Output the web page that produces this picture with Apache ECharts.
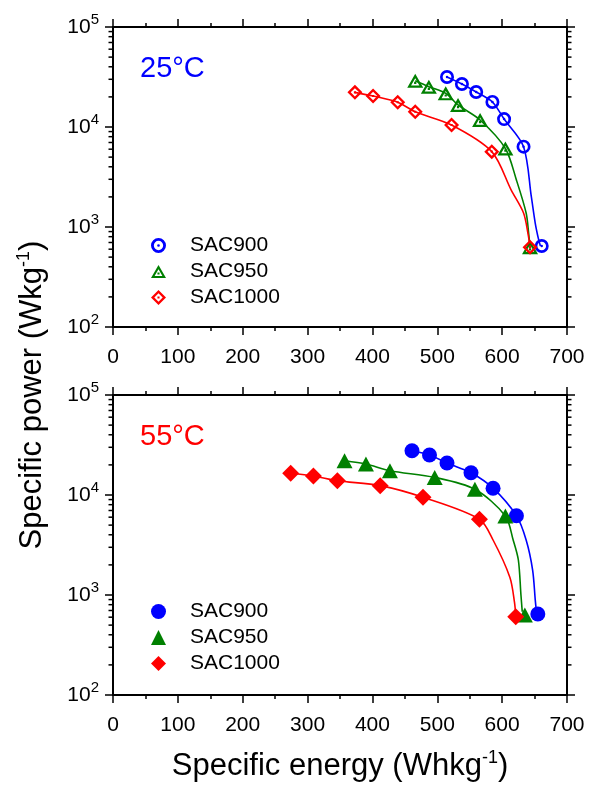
<!DOCTYPE html>
<html>
<head>
<meta charset="utf-8">
<script src="https://cdn.jsdelivr.net/npm/echarts@6/dist/echarts.min.js"></script>
<style>html,body{margin:0;padding:0;background:#fff;}#chart{width:590px;height:786px;}</style>
</head>
<body>
<div id="chart"></div>
<script>
// ---------- Data ----------
const seriesNames = ['SAC900', 'SAC950', 'SAC1000'];
const xTicks = [0, 100, 200, 300, 400, 500, 600, 700];
const yMajorTicks = [100, 1000, 10000, 100000];
const yMinorTicks = [200,300,400,500,600,700,800,900,2000,3000,4000,5000,6000,7000,8000,9000,20000,30000,40000,50000,60000,70000,80000,90000];

// 25 °C – markers
const e900_25  = [515, 538, 560, 585, 603, 633, 661];
const p900_25  = [31600, 26900, 22400, 17800, 12000, 6360, 646];
const e950_25  = [466, 487, 513, 532, 566, 605, 643];
const p950_25  = [29000, 25300, 21700, 16600, 11750, 6100, 627];
const e1000_25 = [373, 401, 439, 466, 522, 584, 643];
const p1000_25 = [22200, 20400, 17700, 14200, 10470, 5670, 627];
// 25 °C – fitted curves
const fe900_25  = [515, 538, 560, 585, 603, 633, 645, 651, 656, 659];
const fp900_25  = [31600, 26900, 22400, 17800, 12000, 6360, 2010, 1096, 760, 646];
const fe950_25  = [466, 487, 513, 532, 566, 605, 622, 637, 641, 643];
const fp950_25  = [29000, 25300, 21700, 16600, 11750, 6100, 2950, 1380, 850, 627];
const fe1000_25 = [373, 401, 439, 466, 522, 584, 614, 633, 640, 643];
const fp1000_25 = [22200, 20400, 17700, 14200, 10470, 5670, 2340, 1380, 850, 627];

// 55 °C – markers
const e900_55  = [461, 488, 515, 552, 586, 622, 655];
const p900_55  = [27700, 25100, 20900, 16700, 11700, 6210, 646];
const e950_55  = [357, 390, 427, 496, 558, 605, 635];
const p950_55  = [22000, 20400, 17500, 15000, 11400, 6170, 631];
const e1000_55 = [274, 309, 346, 412, 478, 565, 621];
const p1000_55 = [16500, 15500, 13900, 12400, 9480, 5720, 607];
// 55 °C – fitted curves
const fe900_55  = [461, 488, 515, 552, 586, 622, 637, 647, 651, 653];
const fp900_55  = [27700, 25100, 20900, 16700, 11700, 6210, 3548, 1778, 900, 660];
const fe950_55  = [357, 390, 427, 496, 558, 605, 617, 625, 629, 631];
const fp950_55  = [22000, 20400, 17500, 15000, 11400, 6170, 3548, 2239, 1000, 680];
const fe1000_55 = [274, 309, 346, 412, 478, 565, 586, 612, 619, 621];
const fp1000_55 = [16500, 15500, 13900, 12400, 9480, 5720, 3548, 1500, 850, 620];

// ---------- Chart ----------
const FONT = "'Liberation Sans', Arial, sans-serif";
const BLUE = '#0000ff', GREEN = '#008000', RED = '#ff0000';
const pairs = (E, P) => E.map((e, i) => [e, P[i]]);

const ringCircle = 'path://M10,0A10,10,0,1,1,10,20A10,10,0,1,1,10,0ZM10,3.8A6.2,6.2,0,1,0,10,16.2A6.2,6.2,0,1,0,10,3.8ZM10,8.2A1.8,1.8,0,1,1,10,11.8A1.8,1.8,0,1,1,10,8.2Z';
const ringTri = 'path://M10,0L20,17.3L0,17.3ZM10,5.6L4.8,14.6L15.2,14.6ZM8.6,10L11.4,10L11.4,12.6L8.6,12.6Z';
const ringDia = 'path://M10,0L20,10L10,20L0,10ZM10,4.4L4.4,10L10,15.6L15.6,10ZM8.6,8.6L11.4,8.6L11.4,11.4L8.6,11.4Z';

const supFmt = v => '{b|10}{s|' + Math.round(Math.log10(v)) + '}';

function xAxes(grid, withLabels) {
  const common = {
    type: 'value', gridIndex: grid, min: 0, max: 700, interval: 100,
    splitLine: { show: false },
    axisLine: { show: true, onZero: false, lineStyle: { color: '#000', width: 2 } },
    axisTick: { show: true, inside: false, length: 8, lineStyle: { color: '#000', width: 1.5 } },
    minorTick: { show: true, splitNumber: 2, length: 4, lineStyle: { color: '#000', width: 1.5 } }
  };
  return [
    Object.assign({}, common, {
      position: 'bottom',
      axisLabel: { show: withLabels, customValues: xTicks, margin: 20, fontSize: 21, color: '#000', fontFamily: FONT }
    }),
    Object.assign({}, common, { position: 'top', axisLabel: { show: false } })
  ];
}
function yAxes(grid) {
  const major = (pos, labels) => ({
    type: 'log', logBase: 10, gridIndex: grid, min: 100, max: 100000,
    splitLine: { show: false }, minorTick: { show: false },
    position: pos,
    axisLine: { show: true, onZero: false, lineStyle: { color: '#000', width: 2 } },
    axisTick: { show: true, inside: false, length: 8, lineStyle: { color: '#000', width: 1.5 } },
    axisLabel: {
      show: labels, formatter: supFmt, margin: 14,
      rich: {
        b: { fontSize: 21, color: '#000', fontFamily: FONT },
        s: { fontSize: 15, color: '#000', fontFamily: FONT, padding: [0, 0, 14, 0] }
      }
    }
  });
  return [major('left', true), major('right', false)];
}

// minor log ticks (2..9 × 10^n) on both frame sides, positioned through the log axis
function minorTickSeries(xi, yi) {
  return {
    type: 'custom', xAxisIndex: xi, yAxisIndex: yi, silent: true, z: 5, clip: false,
    data: yMinorTicks.map(v => [0, v]),
    renderItem: (params, api) => {
      const y = api.coord([0, api.value(1)])[1];
      const cs = params.coordSys;
      const st = { stroke: '#000', lineWidth: 1.5 };
      return { type: 'group', children: [
        { type: 'line', shape: { x1: cs.x - 4.5, y1: y, x2: cs.x, y2: y }, style: st },
        { type: 'line', shape: { x1: cs.x + cs.width, y1: y, x2: cs.x + cs.width + 4.5, y2: y }, style: st }
      ] };
    }
  };
}
function markerSeries(name, xi, yi, data, symbol, size, color) {
  return { type: 'scatter', name: name, xAxisIndex: xi, yAxisIndex: yi, data: data,
    symbol: symbol, symbolSize: size, itemStyle: { color: color, opacity: 1 }, z: 4, silent: true };
}
function fitSeries(xi, yi, data, color) {
  return { type: 'line', xAxisIndex: xi, yAxisIndex: yi, data: data, symbol: 'none', showSymbol: false,
    smooth: 0.3, lineStyle: { color: color, width: 1.6 }, z: 3, silent: true };
}

const chart = echarts.init(document.getElementById('chart'), null, { renderer: 'canvas' });
const legendCommon = {
  orient: 'vertical', left: 146, itemWidth: 15, itemHeight: 15, itemGap: 5,
  textStyle: { fontSize: 21, color: '#000', fontFamily: FONT, padding: [0, 0, 0, 19] },
  selectedMode: false
};
chart.setOption({
  animation: false,
  backgroundColor: '#fff',
  textStyle: { fontFamily: FONT },
  grid: [
    { left: 113, top: 27, width: 454, height: 300 },
    { left: 113, top: 395, width: 454, height: 300 }
  ],
  xAxis: xAxes(0, true).concat(xAxes(1, true)).map((a, i) => {
    if (i === 2) {
      a.name = '{a|Specific energy (Whkg}{s|-1}{a|)}';
      a.nameLocation = 'middle';
      a.nameGap = 54;
      a.nameTextStyle = { rich: {
        a: { fontSize: 31, color: '#000', fontFamily: FONT },
        s: { fontSize: 18, color: '#000', fontFamily: FONT, padding: [0, 0, 16, 0] }
      } };
    }
    return a;
  }),
  yAxis: yAxes(0).concat(yAxes(1)),
  legend: [
    Object.assign({}, legendCommon, { top: 230, data: seriesNames }),
    Object.assign({}, legendCommon, { top: 596, data: seriesNames.map(n => n + ' (55)'),
      formatter: n => n.replace(' (55)', '') })
  ],
  graphic: [
    { type: 'text', x: 140, y: 69, style: { text: '25°C', fontSize: 29, fill: BLUE, fontFamily: FONT, verticalAlign: 'middle', textVerticalAlign: 'middle' } },
    { type: 'text', x: 140, y: 437, style: { text: '55°C', fontSize: 29, fill: RED, fontFamily: FONT, verticalAlign: 'middle', textVerticalAlign: 'middle' } },
    { type: 'text', x: 32, y: 395, rotation: Math.PI / 2,
      style: { text: '{a|Specific power (Wkg}{s|-1}{a|)}', align: 'center', verticalAlign: 'middle',
        textAlign: 'center', textVerticalAlign: 'middle',
        rich: {
          a: { fontSize: 31, fill: '#000', color: '#000', fontFamily: FONT },
          s: { fontSize: 18, fill: '#000', color: '#000', fontFamily: FONT, padding: [0, 0, 16, 0] }
        } } }
  ],
  series: [
    minorTickSeries(0, 0),
    minorTickSeries(2, 2),
    fitSeries(0, 0, pairs(fe900_25, fp900_25), BLUE),
    fitSeries(0, 0, pairs(fe950_25, fp950_25), GREEN),
    fitSeries(0, 0, pairs(fe1000_25, fp1000_25), RED),
    markerSeries('SAC900', 0, 0, pairs(e900_25, p900_25), ringCircle, [14, 14], BLUE),
    markerSeries('SAC950', 0, 0, pairs(e950_25, p950_25), ringTri, [16, 14], GREEN),
    markerSeries('SAC1000', 0, 0, pairs(e1000_25, p1000_25), ringDia, [15, 15], RED),
    fitSeries(2, 2, pairs(fe900_55, fp900_55), BLUE),
    fitSeries(2, 2, pairs(fe950_55, fp950_55), GREEN),
    fitSeries(2, 2, pairs(fe1000_55, fp1000_55), RED),
    markerSeries('SAC900 (55)', 2, 2, pairs(e900_55, p900_55), 'circle', 15, BLUE),
    markerSeries('SAC950 (55)', 2, 2, pairs(e950_55, p950_55), 'triangle', [16, 15], GREEN),
    markerSeries('SAC1000 (55)', 2, 2, pairs(e1000_55, p1000_55), 'diamond', [17, 17], RED)
  ]
});
</script>
</body>
</html>
